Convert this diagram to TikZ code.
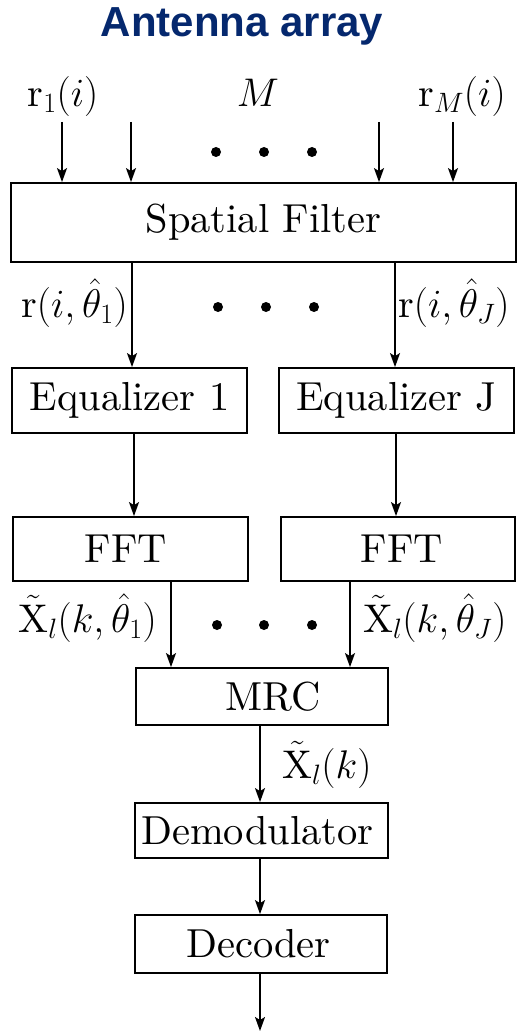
\RequirePackage{fix-cm}
\documentclass[tikz,border=0pt]{standalone}
\usepackage{fontspec}
\setmainfont{lmroman10-regular.otf}
\newfontfamily\titlefont{Liberation Sans}
\usetikzlibrary{arrows.meta}
\definecolor{titleblue}{RGB}{5,40,110}
\begin{document}
\begin{tikzpicture}[x=1pt,y=1pt,
  box/.style={draw, line width=1.8pt, inner sep=0pt, font=\fontsize{40.5}{48}\selectfont},
  lbl/.style={inner sep=0pt, font=\fontsize{40}{48}\selectfont},
  arr/.style={line width=1.5pt, -{Stealth[length=14pt,width=10pt,inset=3pt]}},
  dot/.style={fill=black, circle, inner sep=0pt, minimum size=10pt}]
\useasboundingbox (0,0) rectangle (519,-1032);
% title
\node[anchor=base, inner sep=0pt, text=titleblue, font=\titlefont\bfseries\fontsize{42}{48}\selectfont] (title) at (242,-37) {Antenna array};
% boxes
\node[box, minimum width=505, minimum height=79] (SF) at (263.5,-222.5) {Spatial Filter};
\node[box, minimum width=235, minimum height=65] (Eq1) at (129.5,-400.5) {Equalizer 1};
\node[box, minimum width=235, minimum height=65] (EqJ) at (396.5,-400.5) {Equalizer J};
\node[box, minimum width=235, minimum height=64] (FFT1) at (130.5,-549) {\hspace*{-9pt}FFT};
\node[box, minimum width=234, minimum height=64] (FFTJ) at (398,-549) {FFT\hspace*{-8pt}};
\node[box, minimum width=252, minimum height=57] (MRC) at (262,-696.5) {\hspace*{22pt}MRC};
\node[box, minimum width=253, minimum height=55] (Dem) at (261.5,-830.5) {Demodulator\hspace*{8pt}};
\node[box, minimum width=252, minimum height=58] (Dec) at (261,-944) {Decoder\hspace*{5pt}};
% input labels
\node[lbl, anchor=base] (l1) at (63,-107) {$\mathrm{r}_1(i)$};
\node[lbl, anchor=base] (lM) at (258,-107) {$M$};
\node[lbl, anchor=base] (lr) at (462,-107) {$\mathrm{r}_M(i)$};
% input arrows
\coordinate (i1) at (62,-122);
\coordinate (i2) at (131,-122);
\coordinate (i3) at (379,-122);
\coordinate (i4) at (453,-122);
\foreach \c in {i1,i2,i3,i4} \draw[arr] (\c) -- (\c |- SF.north);
\node[dot] (d1) at (216,-152) {};
\node[dot] (d2) at (264,-152) {};
\node[dot] (d3) at (312,-152) {};
% SF -> equalizers
\coordinate (c1) at (132,0);
\coordinate (c2) at (395,0);
\draw[arr] (SF.south -| c1) -- (Eq1.north -| c1);
\draw[arr] (SF.south -| c2) -- (EqJ.north -| c2);
\node[lbl, anchor=base east] (lt1) at (128,-317) {$\mathrm{r}(i,\hat{\theta}_1)$};
\node[lbl, anchor=base west] (ltJ) at (398,-317) {$\mathrm{r}(i,\hat{\theta}_J)$};
\node[dot] (e1) at (218,-307) {};
\node[dot] (e2) at (266,-307) {};
\node[dot] (e3) at (314,-307) {};
% equalizers -> FFT
\coordinate (c3) at (134,0);
\coordinate (c4) at (396,0);
\draw[arr] (Eq1.south -| c3) -- (FFT1.north -| c3);
\draw[arr] (EqJ.south -| c4) -- (FFTJ.north -| c4);
% FFT -> MRC
\coordinate (c5) at (171,0);
\coordinate (c6) at (350,0);
\draw[arr] (FFT1.south -| c5) -- (MRC.north -| c5);
\draw[arr] (FFTJ.south -| c6) -- (MRC.north -| c6);
\node[lbl, anchor=base east] (lx1) at (157,-632) {$\tilde{\mathrm{X}}_l(k,\hat{\theta}_1)$};
\node[lbl, anchor=base west] (lxJ) at (363,-632) {$\tilde{\mathrm{X}}_l(k,\hat{\theta}_J)$};
\node[dot] (f1) at (217,-625) {};
\node[dot] (f2) at (264,-625) {};
\node[dot] (f3) at (312,-625) {};
% chain
\coordinate (c7) at (260,0);
\draw[arr] (MRC.south -| c7) -- (Dem.north -| c7);
\node[lbl, anchor=base west] (lx) at (282,-778) {$\tilde{\mathrm{X}}_l(k)$};
\draw[arr] (Dem.south -| c7) -- (Dec.north -| c7);
\coordinate (out) at (260,-1031);
\draw[arr] (Dec.south -| c7) -- (out);
\end{tikzpicture}
\end{document}
